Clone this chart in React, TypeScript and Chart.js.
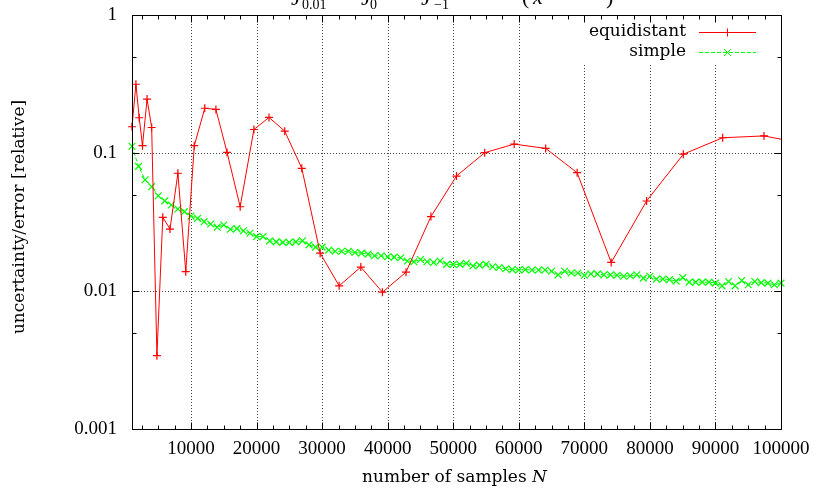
import React, { useEffect, useRef } from "react";
import { Chart, registerables } from "chart.js";

Chart.register(...registerables);

// ---- data ----
const equidistantN = [1000, 1600, 2100, 2600, 3300, 4000, 4800, 5700, 6800, 8000, 9200, 10500, 12100, 13800, 15500, 17500, 19600, 21900, 24300, 26900, 29700, 32600, 35900, 39200, 42800, 46600, 50500, 54800, 59300, 64100, 68900, 74100, 79500, 85100, 91100, 97400, 103900];
const equidistantErr = [0.155, 0.315, 0.18, 0.113, 0.246, 0.153, 0.0034, 0.0342, 0.0281, 0.0713, 0.0138, 0.113, 0.211, 0.207, 0.101, 0.0408, 0.148, 0.181, 0.144, 0.0775, 0.0188, 0.0109, 0.0149, 0.0098, 0.0137, 0.0346, 0.0681, 0.1005, 0.116, 0.108, 0.072, 0.0161, 0.0449, 0.098, 0.129, 0.133, 0.116];

const simpleN = [
  1000, 2000, 3000, 4000, 5000, 6000, 7000, 8000, 9000, 10000,
  11000, 12000, 13000, 14000, 15000, 16000, 17000, 18000, 19000, 20000,
  21000, 22000, 23000, 24000, 25000, 26000, 27000, 28000, 29000, 30000,
  31000, 32000, 33000, 34000, 35000, 36000, 37000, 38000, 39000, 40000,
  41000, 42000, 43000, 44000, 45000, 46000, 47000, 48000, 49000, 50000,
  51000, 52000, 53000, 54000, 55000, 56000, 57000, 58000, 59000, 60000,
  61000, 62000, 63000, 64000, 65000, 66000, 67000, 68000, 69000, 70000,
  71000, 72000, 73000, 74000, 75000, 76000, 77000, 78000, 79000, 80000,
  81000, 82000, 83000, 84000, 85000, 86000, 87000, 88000, 89000, 90000,
  91000, 92000, 93000, 94000, 95000, 96000, 97000, 98000, 99000, 100000,
];
const simpleErr = [
  0.112, 0.080, 0.064, 0.057, 0.049, 0.045, 0.042, 0.0393, 0.0376, 0.0349,
  0.0336, 0.0318, 0.0306, 0.0290, 0.0301, 0.0280, 0.0283, 0.0273, 0.0262, 0.0248,
  0.0248, 0.0231, 0.0227, 0.0225, 0.0225, 0.0227, 0.0231, 0.0216, 0.0208, 0.0208,
  0.0198, 0.0194, 0.0194, 0.0194, 0.0190, 0.0188, 0.0185, 0.0180, 0.0180, 0.0177,
  0.0176, 0.0174, 0.0165, 0.0163, 0.0169, 0.0163, 0.0161, 0.0165, 0.0156, 0.0156,
  0.0156, 0.0159, 0.0152, 0.0154, 0.0156, 0.0150, 0.0148, 0.0145, 0.0143, 0.0142,
  0.0143, 0.0142, 0.0142, 0.0142, 0.0139, 0.0131, 0.0139, 0.0135, 0.0135, 0.0130,
  0.0133, 0.0133, 0.0131, 0.0131, 0.0130, 0.0128, 0.0129, 0.0131, 0.0124, 0.0128,
  0.0122, 0.0122, 0.0121, 0.0118, 0.0125, 0.0116, 0.0116, 0.0116, 0.0116, 0.0114,
  0.0109, 0.0117, 0.0109, 0.0119, 0.0111, 0.0117, 0.0115, 0.0114, 0.0111, 0.0114,
];

const xTickValues = [10000, 20000, 30000, 40000, 50000, 60000, 70000, 80000, 90000, 100000];
const xTickLabels = ["10000", "20000", "30000", "40000", "50000", "60000", "70000", "80000", "90000", "100000"];
const yTickValues = [0.001, 0.01, 0.1, 1];
const yTickLabels = ["0.001", "0.01", "0.1", "1"];
const yMinorTickValues = [0.005, 0.05, 0.5];
const seriesNames = ["equidistant", "simple"];

const X_MIN = 1000;
const X_MAX = 100000;

const NUM_FONT = '"Liberation Serif", "Times New Roman", serif';
const TXT_FONT = '"DejaVu Serif", serif';
const RED = "#ff0000";
const GREEN = "#00ff00";

const decorPlugin = {
  id: "decor",
  beforeDatasetsDraw(chart: any) {
    const { ctx, chartArea: a, scales } = chart;
    const x = scales.x;
    const y = scales.y;
    ctx.save();
    ctx.strokeStyle = "#444";
    ctx.lineWidth = 1;
    ctx.setLineDash([1, 2]);
    const legendLeft = 575;
    const legendBottom = 65;
    for (const v of xTickValues) {
      if (v >= X_MAX) continue;
      const px = Math.round(x.getPixelForValue(v)) + 0.5;
      const top = px > legendLeft ? legendBottom : a.top;
      ctx.beginPath();
      ctx.moveTo(px, top);
      ctx.lineTo(px, a.bottom);
      ctx.stroke();
    }
    for (const v of yTickValues) {
      if (v <= 0.001 || v >= 1) continue;
      const py = Math.round(y.getPixelForValue(v)) + 0.5;
      ctx.beginPath();
      ctx.moveTo(a.left, py);
      ctx.lineTo(a.right, py);
      ctx.stroke();
    }
    ctx.restore();
  },
  afterDatasetsDraw(chart: any) {
    const { ctx, chartArea: a, scales } = chart;
    const x = scales.x;
    const y = scales.y;
    ctx.save();
    ctx.setLineDash([]);
    ctx.strokeStyle = "#000";
    ctx.lineWidth = 1;
    const L = Math.round(a.left) + 0.5;
    const R = Math.round(a.right) + 0.5;
    const T = Math.round(a.top) + 0.5;
    const B = Math.round(a.bottom) + 0.5;
    ctx.strokeRect(L, T, R - L, B - T);
    const major = 7;
    const minor = 4;
    ctx.beginPath();
    for (let v = 2500; v < X_MAX; v += 2500) {
      const px = Math.round(x.getPixelForValue(v)) + 0.5;
      const len = v % 10000 === 0 ? major : minor;
      ctx.moveTo(px, B);
      ctx.lineTo(px, B - len);
      ctx.moveTo(px, T);
      ctx.lineTo(px, T + len);
    }
    for (const v of yTickValues) {
      const py = Math.round(y.getPixelForValue(v)) + 0.5;
      ctx.moveTo(L, py);
      ctx.lineTo(L + major, py);
      ctx.moveTo(R, py);
      ctx.lineTo(R - major, py);
    }
    for (const v of yMinorTickValues) {
      const py = Math.round(y.getPixelForValue(v)) + 0.5;
      ctx.moveTo(L, py);
      ctx.lineTo(L + minor, py);
      ctx.moveTo(R, py);
      ctx.lineTo(R - minor, py);
    }
    ctx.stroke();

    // legend
    ctx.fillStyle = "#000";
    ctx.font = `17px ${TXT_FONT}`;
    ctx.textAlign = "right";
    ctx.textBaseline = "middle";
    const ly = [32, 52];
    ctx.fillText(seriesNames[0], 686, ly[0]);
    ctx.fillText(seriesNames[1], 686, ly[1]);
    ctx.strokeStyle = RED;
    ctx.beginPath();
    ctx.moveTo(699, ly[0] + 0.5);
    ctx.lineTo(756, ly[0] + 0.5);
    ctx.moveTo(727.5, ly[0] - 3.5);
    ctx.lineTo(727.5, ly[0] + 4.5);
    ctx.stroke();
    ctx.strokeStyle = GREEN;
    ctx.setLineDash([4, 2]);
    ctx.beginPath();
    ctx.moveTo(699, ly[1] + 0.5);
    ctx.lineTo(756, ly[1] + 0.5);
    ctx.stroke();
    ctx.setLineDash([]);
    ctx.beginPath();
    ctx.moveTo(724, ly[1] - 3);
    ctx.lineTo(731, ly[1] + 4);
    ctx.moveTo(731, ly[1] - 3);
    ctx.lineTo(724, ly[1] + 4);
    ctx.stroke();

    // axis titles
    ctx.fillStyle = "#000";
    ctx.font = `17px ${TXT_FONT}`;
    ctx.textAlign = "center";
    ctx.textBaseline = "middle";
    ctx.save();
    ctx.translate(20, 217);
    ctx.rotate(-Math.PI / 2);
    ctx.fillText("uncertainty/error [relative]", 0, 0);
    ctx.restore();

    const part1 = "number of samples ";
    const w1 = ctx.measureText(part1).width;
    ctx.font = `italic 17px ${TXT_FONT}`;
    const w2 = ctx.measureText("N").width;
    const cx = (a.left + a.right) / 2 - 2;
    const start = cx - (w1 + w2) / 2;
    ctx.textAlign = "left";
    ctx.font = `17px ${TXT_FONT}`;
    ctx.fillText(part1, start, 478);
    ctx.font = `italic 17px ${TXT_FONT}`;
    ctx.fillText("N", start + w1, 478);

    // title (cut off at top of the picture)
    ctx.textBaseline = "alphabetic";
    ctx.textAlign = "left";
    ctx.font = `italic 22px ${NUM_FONT}`;
    ctx.fillText("J", 291, 5);
    ctx.fillText("J", 361, 5);
    ctx.fillText("J", 421, 5);
    ctx.fillText("x", 533, 4);
    ctx.font = `22px ${NUM_FONT}`;
    ctx.fillText("(", 522, 4);
    ctx.fillText(")", 606, 4);
    ctx.font = `14px ${NUM_FONT}`;
    ctx.fillText("0.01", 302, 9);
    ctx.fillText("0", 370, 9);
    ctx.fillText("\u22121", 434, 9);
    ctx.restore();
  },
};

export default function App() {
  const ref = useRef<HTMLCanvasElement | null>(null);
  useEffect(() => {
    document.body.style.margin = "0";
    const canvas = ref.current;
    if (!canvas) return;
    const chart = new Chart(canvas, {
      type: "line",
      data: {
        datasets: [
          {
            label: seriesNames[0],
            data: equidistantN.map((n, i) => ({ x: n, y: equidistantErr[i] })),
            borderColor: RED,
            backgroundColor: RED,
            borderWidth: 1,
            pointStyle: "cross",
            pointRadius: 4,
            pointBorderWidth: 1.2,
            pointBorderColor: RED,
            tension: 0,
            clip: { left: 8, top: 8, bottom: 8, right: 0 },
          },
          {
            label: seriesNames[1],
            data: simpleN.map((n, i) => ({ x: n, y: simpleErr[i] })),
            borderColor: GREEN,
            backgroundColor: GREEN,
            borderWidth: 1,
            borderDash: [4, 2],
            pointStyle: "crossRot",
            pointRadius: 4.8,
            pointBorderWidth: 1.2,
            pointBorderColor: GREEN,
            tension: 0,
            clip: { left: 8, top: 8, bottom: 8, right: 8 },
          },
        ],
      },
      options: {
        responsive: false,
        animation: false,
        events: [],
        layout: { padding: { top: 15, right: 37, left: 0, bottom: 0 } },
        plugins: {
          legend: { display: false },
          tooltip: { enabled: false },
          title: { display: false },
        },
        scales: {
          x: {
            type: "linear",
            min: X_MIN,
            max: X_MAX,
            grid: { display: false, drawTicks: false },
            border: { display: false },
            afterBuildTicks: (s: any) => {
              s.ticks = xTickValues.map((v) => ({ value: v }));
            },
            afterFit: (s: any) => {
              s.height = 61;
              s.paddingLeft = 0;
              s.paddingRight = 0;
            },
            ticks: {
              autoSkip: false,
              maxRotation: 0,
              minRotation: 0,
              padding: 9,
              color: "#000",
              font: { family: NUM_FONT, size: 19 },
              callback: (v: any) => {
                const i = xTickValues.indexOf(Number(v));
                return i >= 0 ? xTickLabels[i] : "";
              },
            },
          },
          y: {
            type: "logarithmic",
            min: 0.001,
            max: 1,
            grid: { display: false, drawTicks: false },
            border: { display: false },
            afterBuildTicks: (s: any) => {
              s.ticks = yTickValues.map((v) => ({ value: v }));
            },
            afterFit: (s: any) => {
              s.width = 132;
              s.paddingTop = 0;
              s.paddingBottom = 0;
            },
            ticks: {
              autoSkip: false,
              padding: 15,
              color: "#000",
              font: { family: NUM_FONT, size: 19 },
              callback: (v: any) => {
                const i = yTickValues.findIndex((t) => Math.abs(t - Number(v)) / t < 1e-6);
                return i >= 0 ? yTickLabels[i] : "";
              },
            },
          },
        },
      },
      plugins: [decorPlugin],
    });
    return () => chart.destroy();
  }, []);
  return <canvas ref={ref} width={818} height={490} style={{ display: "block" }} />;
}
